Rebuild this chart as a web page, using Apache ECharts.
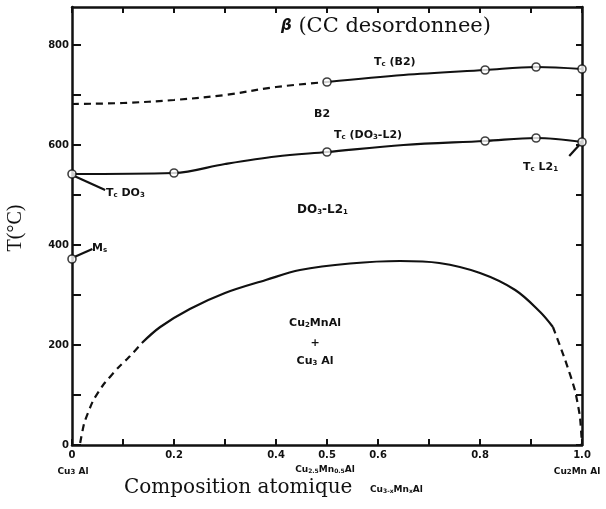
<!DOCTYPE html>
<html>
<head>
<meta charset="utf-8">
<script src="https://cdn.jsdelivr.net/npm/echarts@6/dist/echarts.min.js"></script>
<style>
  html, body { margin: 0; padding: 0; background: #fff; }
  #chart { width: 606px; height: 509px; }
</style>
</head>
<body>
<div id="chart"></div>
<script>
// composition x (Cu3-xMnxAl) vs temperature (°C)
const xLabelTicks = [0, 0.2, 0.4, 0.5, 0.6, 0.8, 1.0]
const yLabelTicks = [0, 200, 400, 600, 800]

// Tc(B2): dashed estimate, then measured part
const b2Dashed = [[0, 682], [0.1, 684], [0.2, 690], [0.3, 700], [0.4, 716], [0.5, 726]]
const b2Solid = [[0.5, 726], [0.65, 740], [0.81, 750], [0.91, 756], [1.0, 752]]
const b2Points = [[0.5, 726], [0.81, 750], [0.91, 756], [1.0, 752]]

// Tc(DO3-L2)
const do3Line = [[0, 542], [0.2, 544], [0.3, 562], [0.4, 577], [0.5, 586], [0.65, 600], [0.81, 608], [0.91, 614], [1.0, 606]]
const do3Points = [[0, 542], [0.2, 544], [0.5, 586], [0.81, 608], [0.91, 614], [1.0, 606]]

// Ms
const msPoints = [[0, 372]]

// two-phase boundary Cu2MnAl + Cu3Al
const solvLeft = [[0.016, 4], [0.024, 44], [0.041, 88], [0.061, 120], [0.09, 154], [0.114, 178], [0.137, 204]]
const solvMid = [[0.137, 204], [0.173, 236], [0.231, 272], [0.3, 304], [0.38, 330], [0.447, 350], [0.545, 363], [0.643, 368], [0.72, 364], [0.8, 344], [0.869, 310], [0.918, 266], [0.943, 236]]
const solvRight = [[0.943, 236], [0.967, 170], [0.986, 110], [0.996, 56], [1.0, 0]]

// leader lines for labels
const leaderDO3 = [[0, 540], [0.065, 510]]
const leaderMs = [[0, 374], [0.04, 392]]
const leaderL21 = [[1.0, 606], [0.975, 578]]

const chart = echarts.init(document.getElementById('chart'))

const black = '#111'
const smallFont = 'bold 11px "DejaVu Sans"'
const subRich = {s: {font: 'bold 7px "DejaVu Sans"', fill: black, verticalAlign: 'bottom'}}

function lineSeries(data, dashed, smooth) {
  return {
    type: 'line',
    data: data,
    smooth: smooth === undefined ? 0.35 : smooth,
    showSymbol: false,
    silent: true,
    lineStyle: {color: black, width: 2.2, type: dashed ? [7, 5] : 'solid'},
    z: 3,
  }
}

function pointSeries(data) {
  return {
    type: 'scatter',
    data: data,
    symbol: 'circle',
    symbolSize: 8,
    itemStyle: {color: '#fff', borderColor: black, borderWidth: 1.6},
    z: 5,
  }
}

function label(x, y, text, font, extra) {
  return {
    type: 'text', x: x, y: y,
    style: Object.assign({text: text, font: font || smallFont, fill: black, rich: subRich}, extra || {}),
  }
}

const isLabelTick = v => xLabelTicks.some(t => Math.abs(t - v) < 1e-6)

const frameAxis = {
  axisLine: {onZero: false, lineStyle: {color: black, width: 2.5}},
  axisTick: {inside: true, length: 6, lineStyle: {color: black, width: 2}},
  splitLine: {show: false},
}

chart.setOption({
  animation: false,
  grid: {left: 72, right: 24, top: 7, bottom: 64},
  xAxis: [
    Object.assign({}, frameAxis, {
      type: 'value', min: 0, max: 1, interval: 0.1, position: 'bottom',
      axisLabel: {
        color: black,
        fontFamily: 'DejaVu Sans',
        fontWeight: 'bold',
        fontSize: 10,
        margin: 5,
        formatter: v => isLabelTick(v) ? (Math.abs(v - 1) < 1e-6 ? '1.0' : String(+v.toFixed(1))) : '',
      },
    }),
    Object.assign({}, frameAxis, {
      type: 'value', min: 0, max: 1, interval: 0.1, position: 'top',
      axisLabel: {show: false},
    }),
  ],
  yAxis: [
    Object.assign({}, frameAxis, {
      type: 'value', min: 0, max: 876, interval: 100, position: 'left',
      axisTick: {inside: true, length: 9, lineStyle: {color: black, width: 2}},
      axisLabel: {
        color: black,
        fontFamily: 'DejaVu Sans',
        fontWeight: 'bold',
        fontSize: 10,
        margin: 3,
        showMaxLabel: false,
        formatter: v => yLabelTicks.indexOf(v) >= 0 ? String(v) : '',
      },
    }),
    Object.assign({}, frameAxis, {
      type: 'value', min: 0, max: 876, interval: 100, position: 'right',
      axisLabel: {show: false},
    }),
  ],
  series: [
    lineSeries(b2Dashed, true),
    lineSeries(b2Solid, false),
    lineSeries(do3Line, false),
    lineSeries(solvLeft, true, 0.15),
    lineSeries(solvMid, false),
    lineSeries(solvRight, true, 0.2),
    lineSeries(leaderDO3, false, false),
    lineSeries(leaderMs, false, false),
    lineSeries(leaderL21, false, false),
    pointSeries(b2Points),
    pointSeries(do3Points),
    pointSeries(msPoints),
  ],
  graphic: [
    label(281, 16, '{b|β} (CC desordonnee)', '21px "DejaVu Serif"',
      {rich: {b: {font: 'bold italic 15px "DejaVu Sans"', fill: black}}}),
    label(374, 57, 'T{s|c} (B2)'),
    label(314, 109, 'B2'),
    label(334, 130, 'T{s|c} (DO{s|3}-L2)', null, {textLetterSpacing: 1}),
    label(297, 204, 'DO{s|3}-L2{s|1}', 'bold 12px "DejaVu Sans"'),
    label(106, 188, 'T{s|c} DO{s|3}'),
    label(523, 162, 'T{s|c} L2{s|1}'),
    label(92, 243, 'M{s|s}'),
    label(315, 318, 'Cu{s|2}MnAl', null, {align: 'center'}),
    label(315, 338, '+', null, {align: 'center'}),
    label(315, 356, 'Cu{s|3} Al', null, {align: 'center'}),
    label(73, 467, 'Cu{s|3} Al', 'bold 9px "DejaVu Sans"', {align: 'center'}),
    label(325, 465, 'Cu{s|2.5}Mn{s|0.5}Al', 'bold 9px "DejaVu Sans"',
      {align: 'center', rich: {s: {font: 'bold 6px "DejaVu Sans"', fill: black, verticalAlign: 'bottom'}}}),
    label(577, 467, 'Cu{s|2}Mn Al', 'bold 9px "DejaVu Sans"', {align: 'center'}),
    label(124, 478, 'Composition atomique', '20px "DejaVu Serif"'),
    label(370, 485, 'Cu{s|3-x}Mn{s|x}Al', 'bold 9px "DejaVu Sans"',
      {rich: {s: {font: 'bold 6px "DejaVu Sans"', fill: black, verticalAlign: 'bottom'}}}),
    {
      type: 'text', x: 16, y: 228, rotation: Math.PI / 2,
      style: {text: 'T(°C)', font: '20px "Liberation Serif"', fill: black, align: 'center', verticalAlign: 'middle'},
    },
  ],
})
</script>
</body>
</html>
